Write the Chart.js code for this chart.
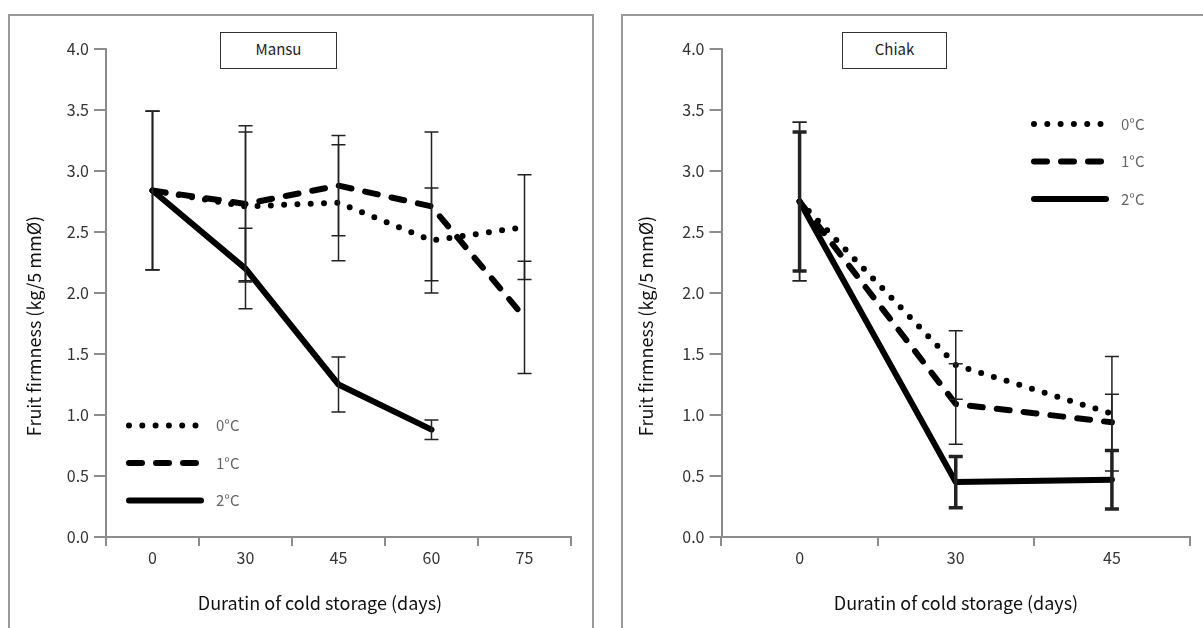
<!DOCTYPE html>
<html>
<head>
<meta charset="utf-8">
<script src="https://cdn.jsdelivr.net/npm/chart.js@4/dist/chart.umd.min.js"></script>
<style>
  html, body { margin: 0; padding: 0; background: #fff; overflow: hidden; }
  body { width: 1203px; height: 628px; position: relative; font-family: "Noto Sans CJK KR", "Noto Sans", sans-serif; }
  .panel { position: absolute; border: 2px solid #9a9a9a; box-sizing: border-box; }
  .tbox { position: absolute; border: 1.5px solid #333; box-sizing: border-box; background: #fff;
          font-size: 15px; color: #222; text-align: center; line-height: 32px; }
  canvas { position: absolute; top: 0; }
</style>
</head>
<body>
<div class="panel" style="left:8px; top:14px; width:586px; height:700px;"></div>
<div class="panel" style="left:621px; top:14px; width:700px; height:700px;"></div>
<canvas id="mansuCanvas" width="600" height="628" style="left:0px"></canvas>
<canvas id="chiakCanvas" width="603" height="628" style="left:600px"></canvas>
<div class="tbox" style="left:220px; top:32px; width:117px; height:37px;">Mansu</div>
<div class="tbox" style="left:842px; top:32px; width:105px; height:37px;">Chiak</div>
<script>
// Mansu
const mansuDays = ['0', '30', '45', '60', '75'];
const mansu0 = [2.84, 2.71, 2.74, 2.43, 2.54];
const mansu1 = [2.84, 2.73, 2.88, 2.71, 1.80];
const mansu2 = [2.84, 2.20, 1.25, 0.88, null];
const mansu0Err = [0.65, 0.61, 0.475, 0.43, 0.43];
const mansu1Err = [0.65, 0.64, 0.41, 0.61, 0.46];
const mansu2Err = [0.65, 0.33, 0.225, 0.08, null];

// Chiak
const chiakDays = ['0', '30', '45'];
const chiak0 = [2.75, 1.41, 1.01];
const chiak1 = [2.75, 1.09, 0.94];
const chiak2 = [2.75, 0.45, 0.47];
const chiak0Err = [0.65, 0.28, 0.47];
const chiak1Err = [0.65, 0.33, 0.23];
const chiak2Err = [0.57, 0.21, 0.24];

const seriesNames = ['0°C', '1°C', '2°C'];
const yTicks = [0, 0.5, 1, 1.5, 2, 2.5, 3, 3.5, 4];

const FONT = '"Noto Sans CJK KR", "Noto Sans", sans-serif';
const AXIS = '#8c8c8c';

const styles = [
    { borderDash: [0, 13.3], borderCapStyle: 'round' },
    { borderDash: [13, 14], borderCapStyle: 'round' },
    { borderDash: [], borderCapStyle: 'round' }
];

function makeDatasets(values, errs, errWidths)
{
    return values.map((v, i) => ({
        label: seriesNames[i],
        data: v,
        errors: errs[i],
        errWidth: errWidths[i],
        borderColor: '#000',
        borderWidth: 6,
        borderDash: styles[i].borderDash,
        borderCapStyle: styles[i].borderCapStyle,
        borderJoinStyle: 'round',
        pointRadius: 0,
        tension: 0,
        spanGaps: false,
        fill: false
    }));
}

// error bars, legend and axis titles
const extras = {
    id: 'extras',
    afterDatasetsDraw(chart, args, opts) {
        const ctx = chart.ctx;
        const x = chart.scales.x, y = chart.scales.y;
        ctx.save();
        ctx.strokeStyle = '#222';
        chart.data.datasets.forEach(ds => {
            ds.errors.forEach((e, i) => {
                if (e == null || ds.data[i] == null) return;
                const px = x.getPixelForValue(i);
                const top = y.getPixelForValue(ds.data[i] + e);
                const bot = y.getPixelForValue(ds.data[i] - e);
                ctx.lineWidth = ds.errWidth;
                ctx.setLineDash([]);
                ctx.beginPath();
                ctx.moveTo(px, top); ctx.lineTo(px, bot);
                ctx.moveTo(px - 7, top); ctx.lineTo(px + 7, top);
                ctx.moveTo(px - 7, bot); ctx.lineTo(px + 7, bot);
                ctx.stroke();
            });
        });

        // legend
        chart.data.datasets.forEach((ds, i) => {
            const ly = opts.legendY[i];
            ctx.strokeStyle = '#000';
            ctx.lineWidth = ds.borderWidth;
            ctx.lineCap = ds.borderCapStyle;
            ctx.setLineDash(ds.borderDash);
            ctx.beginPath();
            ctx.moveTo(opts.legendX, ly);
            ctx.lineTo(opts.legendX + 72, ly);
            ctx.stroke();
            ctx.setLineDash([]);
            ctx.fillStyle = '#666';
            ctx.font = '15px ' + FONT;
            ctx.textBaseline = 'middle';
            ctx.textAlign = 'left';
            ctx.fillText(ds.label, opts.legendX + 87, ly);
        });

        // axis titles
        ctx.fillStyle = '#111';
        ctx.font = '18px ' + FONT;
        ctx.textAlign = 'center';
        ctx.textBaseline = 'middle';
        ctx.fillText('Duratin of cold storage (days)', opts.xTitle[0], opts.xTitle[1]);
        ctx.translate(opts.yTitle[0], opts.yTitle[1]);
        ctx.rotate(-Math.PI / 2);
        ctx.fillText('Fruit firmness (kg/5 mmØ)', 0, 0);
        ctx.restore();
    }
};

function plotPanel(setting = {})
{
    return new Chart(document.getElementById(setting.id), {
        type: 'line',
        data: {
            labels: setting.labels,
            datasets: makeDatasets(setting.values, setting.errors, setting.errWidths)
        },
        options: {
            responsive: false,
            animation: false,
            devicePixelRatio: 1,
            layout: { padding: { left: 0, top: 49, right: setting.padRight, bottom: 0 } },
            plugins: {
                legend: { display: false },
                tooltip: { enabled: false },
                extras: setting.extras
            },
            scales: {
                x: {
                    type: 'category',
                    offset: true,
                    afterFit: s => { s.height = 91; },
                    grid: { display: true, drawOnChartArea: false, offset: true, tickLength: 9, color: AXIS, lineWidth: 2 },
                    border: { color: AXIS, width: 2 },
                    ticks: { color: '#333', font: { family: FONT, size: 16 }, padding: 2, maxRotation: 0 }
                },
                y: {
                    min: 0,
                    max: 4,
                    afterFit: s => { s.width = setting.yWidth; },
                    afterBuildTicks: s => { s.ticks = yTicks.map(v => ({ value: v })); },
                    grid: { display: true, drawOnChartArea: false, tickLength: 12, color: AXIS, lineWidth: 2 },
                    border: { color: AXIS, width: 2 },
                    ticks: { color: '#333', font: { family: FONT, size: 16 }, padding: 5,
                             callback: v => Number(v).toFixed(1) }
                }
            }
        },
        plugins: [extras]
    });
}

plotPanel({
    id: 'mansuCanvas',
    labels: mansuDays,
    values: [mansu0, mansu1, mansu2],
    errors: [mansu0Err, mansu1Err, mansu2Err],
    errWidths: [1.5, 1.5, 1.5],
    yWidth: 106,
    padRight: 29,
    extras: { legendX: 129, legendY: [425.5, 463, 500.5], xTitle: [320, 603], yTitle: [34, 326] }
});

plotPanel({
    id: 'chiakCanvas',
    labels: chiakDays,
    values: [chiak0, chiak1, chiak2],
    errors: [chiak0Err, chiak1Err, chiak2Err],
    errWidths: [1.5, 1.5, 3.5],
    yWidth: 121.5,
    padRight: 13,
    extras: { legendX: 434, legendY: [124, 161.5, 199], xTitle: [356, 603], yTitle: [46, 326] }
});
</script>
</body>
</html>
